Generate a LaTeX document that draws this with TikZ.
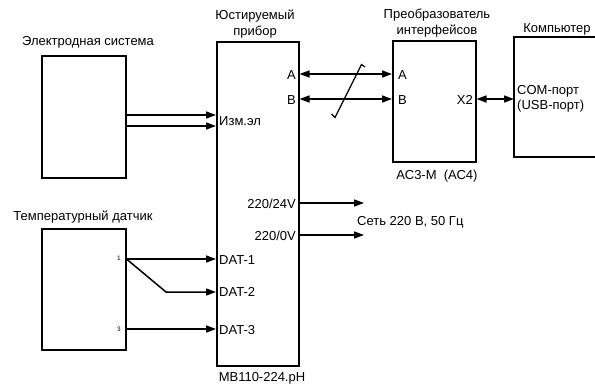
\documentclass[tikz,border=0pt]{standalone}
\usepackage{fontspec}
\setmainfont{Liberation Sans}
\usetikzlibrary{arrows.meta}
\begin{document}
\begin{tikzpicture}[x=1pt,y=-1pt,
  box/.style={draw,line width=1.5pt,anchor=north west,inner sep=0pt,minimum width=#1},
  lbl/.style={font=\fontsize{13}{14.5}\selectfont,inner sep=0pt},
  tiny/.style={font=\fontsize{6.5}{7}\selectfont,inner sep=0pt},
  wire/.style={line width=1.5pt},
  arr/.style={wire,-{Triangle[length=10pt,width=7pt]}},
  darr/.style={wire,{Triangle[length=10pt,width=7pt]}-{Triangle[length=10pt,width=7pt]}}]
\useasboundingbox (0,0) rectangle (595,384);
% boxes
\node[box=84pt,minimum height=122pt] (el) at (41,55) {};
\node[box=82pt,minimum height=324pt] (dev) at (216,41) {};
\node[box=84pt,minimum height=121pt] (tmp) at (41,228) {};
\node[box=83pt,minimum height=121pt] (conv) at (392,40) {};
\draw[line width=1.5pt] (595,37) -- (514,37) -- (514,157) -- (595,157);
\coordinate (pcW) at (514,99);
% titles
\node[lbl] (tEl) at (88,42) {Электродная система};
\node[lbl,align=center] (tDev) at (255,24) {Юстируемый\\[1pt]прибор};
\node[lbl,align=center] (tConv) at (437,23) {Преобразователь\\[1pt]интерфейсов};
\node[lbl] (tPC) at (557,29) {Компьютер};
\node[lbl,align=left,anchor=west] (tCom) at (517,99) {COM-порт\\[1pt](USB-порт)};
\node[lbl] (tAC) at (437,176) {АС3-М\ \ (АС4)};
\node[lbl] (tT) at (83,217) {Температурный датчик};
\node[lbl] (tMB) at (262,378) {МВ110-224.рН};
% device port labels
\node[lbl,anchor=east] (dA) at (296,75) {A};
\node[lbl,anchor=east] (dB) at (296,100) {B};
\node[lbl,anchor=west] (dIz) at (219,121) {Изм.эл};
\node[lbl,anchor=east] (d24) at (296,204) {220/24V};
\node[lbl,anchor=east] (d0) at (296,236) {220/0V};
\node[lbl,anchor=west] (dD1) at (219,260) {DAT-1};
\node[lbl,anchor=west] (dD2) at (219,292) {DAT-2};
\node[lbl,anchor=west] (dD3) at (219,330) {DAT-3};
% converter labels
\node[lbl,anchor=west] (cA) at (398,75) {A};
\node[lbl,anchor=west] (cB) at (398,100) {B};
\node[lbl,anchor=east] (cX) at (473,100) {X2};
% sensor pins
\node[tiny,anchor=east] (p1) at (121,258) {1};
\node[tiny,anchor=east] (p3) at (121,329) {3};
\node[lbl,anchor=west] (net) at (357,222) {Сеть 220 В, 50 Гц};
\coordinate (n24) at (364,203);
\coordinate (n0) at (364,235);
\coordinate (bend) at (166,292);
% connectors
\draw[arr] (el.east |- 0,115) -- (dev.west |- 0,115);
\draw[arr] (el.east |- 0,126) -- (dev.west |- 0,126);
\draw[darr] (dev.east |- 0,74) -- (conv.west |- 0,74);
\draw[darr] (dev.east |- 0,99) -- (conv.west |- 0,99);
\draw[darr] (conv.east |- 0,99) -- (pcW);
\draw[line width=1.2pt] (331.5,114) -- (335,117.5) -- (361.5,64.5) -- (365,67);
\draw[arr] (dev.east |- n24) -- (n24);
\draw[arr] (dev.east |- n0) -- (n0);
\draw[arr] (tmp.east |- 0,259) -- (dev.west |- 0,259);
\draw[arr] (tmp.east |- 0,259) -- (bend) -- (dev.west |- bend);
\draw[arr] (tmp.east |- 0,329) -- (dev.west |- 0,329);
\end{tikzpicture}
\end{document}
